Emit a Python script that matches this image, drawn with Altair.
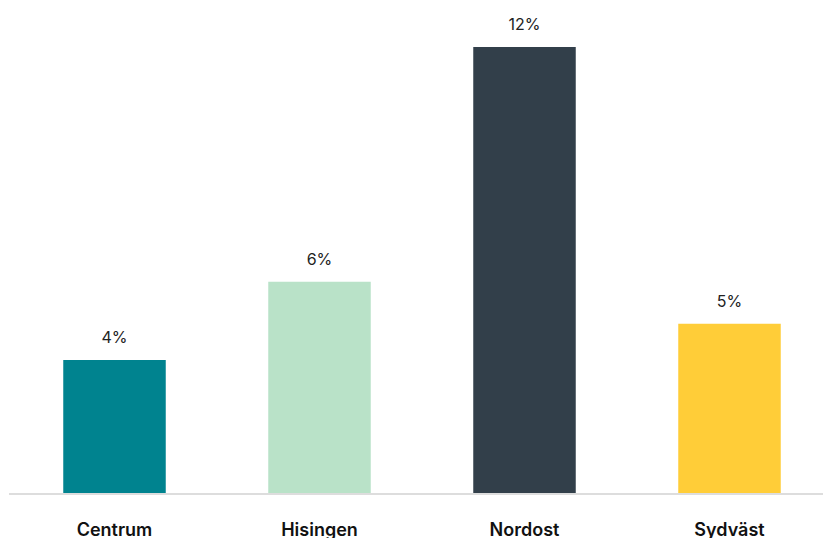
import altair as alt
import pandas as pd

regions = ["Centrum", "Hisingen", "Nordost", "Sydväst"]
values = [3.6, 5.7, 12.0, 4.57]
labels = ["4%", "6%", "12%", "5%"]
colors = ["#00838F", "#B9E2C8", "#323F4A", "#FFCD38"]

df = pd.DataFrame({"region": regions, "value": values, "label": labels, "color": colors})

xscale = alt.Scale(paddingInner=0.5, paddingOuter=0.25, range=[4, 824])
x = alt.X("region:N", sort=regions, title=None, scale=xscale,
          axis=alt.Axis(labelAngle=0, ticks=False, tickSize=0, domain=False,
                        labelFont="Inter", labelFontSize=18, labelFontWeight=600,
                        labelColor="#111111", labelPadding=36, labelBaseline="middle"))
y = alt.Y("value:Q", title=None, scale=alt.Scale(domain=[0, 13.05], nice=False), axis=None)

base_line = alt.Chart(df).mark_rule(color="#DDDDDD", strokeWidth=2).encode(
    x=alt.value(1), x2=alt.value(830), y=alt.value(486))
bars = alt.Chart(df).mark_bar().encode(x=x, y=y, color=alt.Color("color:N", scale=None))
text = alt.Chart(df).mark_text(baseline="middle", dy=-22, font="Inter", fontSize=16,
                               color="#222222").encode(
    x=alt.X("region:N", sort=regions, scale=xscale), y="value:Q", text="label:N")

chart = (bars + base_line + text).properties(
    width=815, height=486,
    autosize=alt.AutoSizeParams(type="none"),
    padding={"left": 0, "top": 0, "right": 0, "bottom": 52}
).configure_view(stroke=None).configure_axis(grid=False)

chart.save("out.html", embed_options={"renderer": "svg", "actions": False})
